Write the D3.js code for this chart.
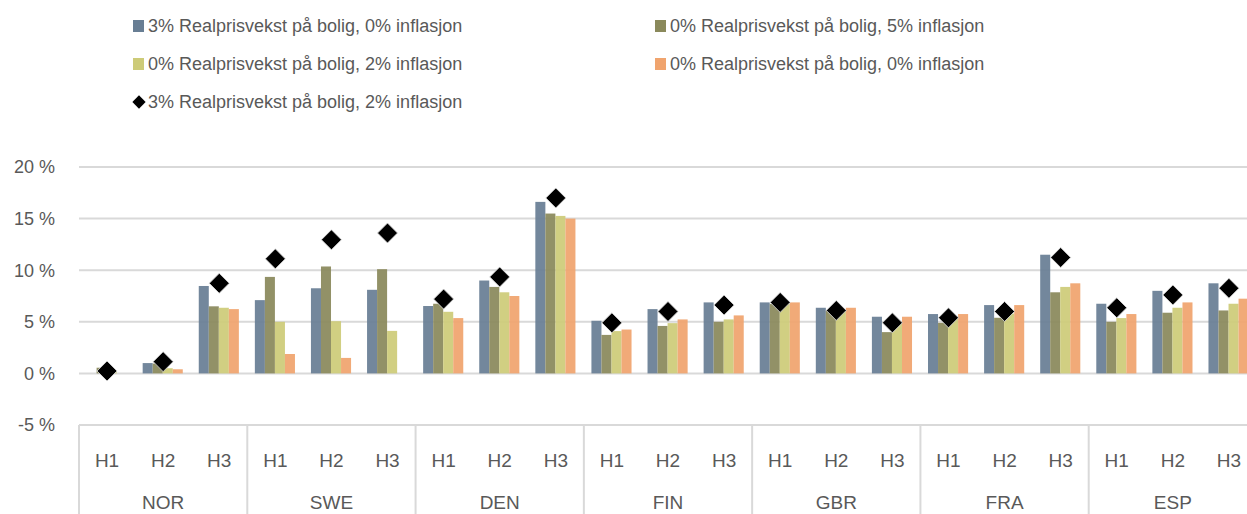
<!DOCTYPE html>
<html>
<head>
<meta charset="utf-8">
<script src="https://cdn.jsdelivr.net/npm/d3@7"></script>
<style>
  body { margin: 0; background: #fff; }
  svg { display: block; font-family: "Liberation Sans", Arial, sans-serif; }
</style>
</head>
<body>
<div class="chart"></div>
<script>
const countries = ["NOR", "SWE", "DEN", "FIN", "GBR", "FRA", "ESP"];
const horizons = ["H1", "H2", "H3"];
const barSeries = [
    "3% Realprisvekst på bolig, 0% inflasjon",
    "0% Realprisvekst på bolig, 5% inflasjon",
    "0% Realprisvekst på bolig, 2% inflasjon",
    "0% Realprisvekst på bolig, 0% inflasjon"
];
const markerSeries = "3% Realprisvekst på bolig, 2% inflasjon";
const yTicks = [-5, 0, 5, 10, 15, 20];

// values in %, order NOR H1..H3, SWE H1..H3, ... ESP H3
const real3infl0 = [0, 1.0, 8.47, 7.1, 8.25, 8.1, 6.53, 9.0, 16.62, 5.1, 6.23, 6.88, 6.88, 6.36, 5.49, 5.75, 6.62, 11.5, 6.75, 8.0, 8.73];
const real0infl5 = [0.55, 0.95, 6.5, 9.35, 10.36, 10.1, 6.75, 8.38, 15.49, 3.73, 4.6, 5.0, 6.72, 6.07, 4.0, 4.9, 5.39, 7.86, 5.0, 5.88, 6.1];
const real0infl2 = [0.3, 0.5, 6.36, 5.0, 5.06, 4.12, 5.97, 7.86, 15.26, 4.1, 4.87, 5.23, 6.72, 6.07, 4.84, 5.3, 5.8, 8.38, 5.36, 6.36, 6.75];
const real0infl0 = [0, 0.4, 6.23, 1.88, 1.5, 0, 5.36, 7.5, 15.0, 4.25, 5.23, 5.62, 6.88, 6.36, 5.49, 5.75, 6.62, 8.73, 5.75, 6.88, 7.24];
const real3infl2 = [0.23, 1.14, 8.73, 11.1, 12.95, 13.6, 7.2, 9.35, 17.0, 4.9, 6.0, 6.62, 6.88, 6.1, 4.9, 5.39, 6.0, 11.23, 6.36, 7.6, 8.25];

const barValues = [real3infl0, real0infl5, real0infl2, real0infl0];
const barColors = ["#687e94", "#8a895b", "#cdcb78", "#f0a46e"];

const width = 1247, height = 514;
const margin = { top: 167, left: 79, bottom: 89 };
const plotRight = 1257; // chart continues past the picture's right edge

const cats = [];
countries.forEach(c => horizons.forEach(h => cats.push(c + "-" + h)));

const svg = d3.select(".chart").append("svg")
    .attr("width", width)
    .attr("height", height);

const x = d3.scaleBand().domain(cats).range([margin.left, plotRight]).padding(0);
const xGroup = d3.scaleBand().domain(countries).range([margin.left, plotRight]).padding(0);
const xInner = d3.scaleBand().domain(d3.range(barSeries.length))
    .range([x.bandwidth() * 0.135, x.bandwidth() * 0.85]).padding(0);
const y = d3.scaleLinear().domain([-5, 20]).range([height - margin.bottom, margin.top]);

// grid lines
svg.append("g")
    .selectAll("line")
    .data(yTicks)
    .enter()
    .append("line")
    .attr("x1", margin.left)
    .attr("x2", width)
    .attr("y1", d => y(d))
    .attr("y2", d => y(d))
    .attr("stroke", "#d9d9d9")
    .attr("stroke-width", 2);

// y labels
svg.append("g")
    .selectAll("text")
    .data(yTicks)
    .enter()
    .append("text")
    .attr("x", 55)
    .attr("y", d => y(d))
    .attr("dy", "0.35em")
    .attr("text-anchor", "end")
    .attr("font-size", 18)
    .attr("fill", "#595959")
    .text(d => d + " %");

// bars
barValues.forEach((vals, si) => {
    svg.append("g")
        .selectAll("rect")
        .data(vals)
        .enter()
        .append("rect")
        .attr("x", (d, i) => x(cats[i]) + xInner(si))
        .attr("y", d => y(Math.max(d, 0)))
        .attr("width", xInner.bandwidth())
        .attr("height", d => Math.abs(y(d) - y(0)))
        .attr("fill", barColors[si])
        .attr("fill-opacity", 0.93);
});

// diamonds
const diamond = d3.symbol().type(d3.symbolSquare).size(200);
svg.append("g")
    .selectAll("path")
    .data(real3infl2)
    .enter()
    .append("path")
    .attr("d", diamond)
    .attr("transform", (d, i) => `translate(${x(cats[i]) + x.bandwidth() / 2},${y(d)}) rotate(45)`)
    .attr("fill", "#000")
    .attr("stroke", "#ddd")
    .attr("stroke-width", 0.8);

// category axis: separators
const axisTop = y(-5);
svg.append("g")
    .selectAll("line")
    .data(countries)
    .enter()
    .append("line")
    .attr("x1", d => xGroup(d))
    .attr("x2", d => xGroup(d))
    .attr("y1", axisTop)
    .attr("y2", height)
    .attr("stroke", "#d9d9d9")
    .attr("stroke-width", 2);

svg.append("g")
    .selectAll("text")
    .data(cats)
    .enter()
    .append("text")
    .attr("x", d => x(d) + x.bandwidth() / 2)
    .attr("y", 460)
    .attr("dy", "0.35em")
    .attr("text-anchor", "middle")
    .attr("font-size", 19)
    .attr("fill", "#595959")
    .text(d => d.split("-")[1]);

svg.append("g")
    .selectAll("text")
    .data(countries)
    .enter()
    .append("text")
    .attr("x", d => xGroup(d) + xGroup.bandwidth() / 2)
    .attr("y", 502)
    .attr("dy", "0.35em")
    .attr("text-anchor", "middle")
    .attr("font-size", 19)
    .attr("fill", "#595959")
    .text(d => d);

// legend
const legendItems = barSeries.map((name, i) => ({ name, color: barColors[i], type: "bar" }))
    .concat([{ name: markerSeries, color: "#000", type: "marker" }]);
const legendPos = [[133, 26], [655, 26], [133, 64], [655, 64], [133, 102]];

const legend = svg.append("g")
    .selectAll("g")
    .data(legendItems)
    .enter()
    .append("g")
    .attr("transform", (d, i) => `translate(${legendPos[i][0]},${legendPos[i][1]})`);

legend.filter(d => d.type === "bar")
    .append("rect")
    .attr("x", 0)
    .attr("y", -6)
    .attr("width", 11)
    .attr("height", 12)
    .attr("fill", d => d.color);

legend.filter(d => d.type === "marker")
    .append("path")
    .attr("d", d3.symbol().type(d3.symbolSquare).size(88))
    .attr("transform", "translate(6,0) rotate(45)")
    .attr("fill", "#000");

legend.append("text")
    .attr("x", 15)
    .attr("y", 0)
    .attr("dy", "0.35em")
    .attr("font-size", 18)
    .attr("fill", "#595959")
    .text(d => d.name);
</script>
</body>
</html>
